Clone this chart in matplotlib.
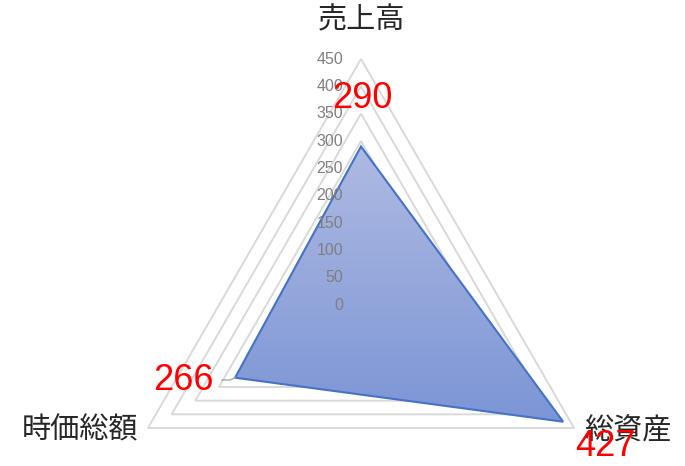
import matplotlib.pyplot as plt
import numpy as np
from matplotlib.colors import LinearSegmentedColormap
from matplotlib.patches import Polygon

plt.rcParams["font.family"] = ["Noto Sans CJK JP", "DejaVu Sans"]

CATEGORIES = ["売上高", "総資産", "時価総額"]
VALUES = [290, 427, 266]
TICKS = [0, 50, 100, 150, 200, 250, 300, 350, 400, 450]
R_MAX = 450

# layout in pixel units (axes covers the whole figure)
W, H = 685, 466
CX, CY = 361, 305
RADIUS = 246
ANGLES = np.deg2rad([90, -30, 210])


def to_xy(vals):
    r = np.asarray(vals, dtype=float) / R_MAX * RADIUS
    return CX + r * np.cos(ANGLES), CY - r * np.sin(ANGLES)


fig = plt.figure(figsize=(W / 100, H / 100), dpi=100)
ax = fig.add_axes([0, 0, 1, 1])
ax.set_xlim(0, W)
ax.set_ylim(H, 0)
ax.axis("off")

# grid rings
for t in TICKS[1:]:
    gx, gy = to_xy([t] * 3)
    ax.add_patch(Polygon(np.column_stack([gx, gy]), closed=True, fill=False,
                         edgecolor="#d9d9d9", linewidth=1.4, zorder=1))

# data polygon with vertical gradient
px, py = to_xy(VALUES)
pts = np.column_stack([px, py])
poly = Polygon(pts, closed=True, facecolor="none", edgecolor="#4472c4",
               linewidth=1.5, zorder=3, joinstyle="miter")
ax.add_patch(poly)
cmap = LinearSegmentedColormap.from_list("fill", ["#aebae2", "#7c95d6"])
grad = np.linspace(0, 1, 256).reshape(-1, 1)
img = ax.imshow(grad, cmap=cmap, aspect="auto", zorder=2,
                extent=[px.min(), px.max(), py.max(), py.min()])
clip = Polygon(pts, closed=True, transform=ax.transData)
img.set_clip_path(clip)
ax.set_xlim(0, W)
ax.set_ylim(H, 0)

# tick labels
for t in TICKS:
    ax.text(CX - 18, CY - t / R_MAX * RADIUS, str(t), ha="right", va="center",
            fontsize=11.5, color="#7f7f7f", zorder=4, family=["Liberation Sans"])

# category labels
cat_pos = [(361, 20), (628, 431), (80, 430)]
for name, (x, y) in zip(CATEGORIES, cat_pos):
    ax.text(x, y, name, ha="center", va="center", fontsize=21, color="#262626", zorder=5)

# value labels
val_pos = [(362, 98), (605, 447), (183, 381)]
for v, (x, y) in zip(VALUES, val_pos):
    ax.text(x, y, str(v), ha="center", va="center", fontsize=26, color="#ff0000",
            zorder=6, family=["Liberation Sans"])

# leader line for the left label
ax.plot([222, 230, px[2]], [380, 380, py[2]], color="#a6a6a6", linewidth=1, zorder=4)

fig.savefig("out.png", dpi=100)
